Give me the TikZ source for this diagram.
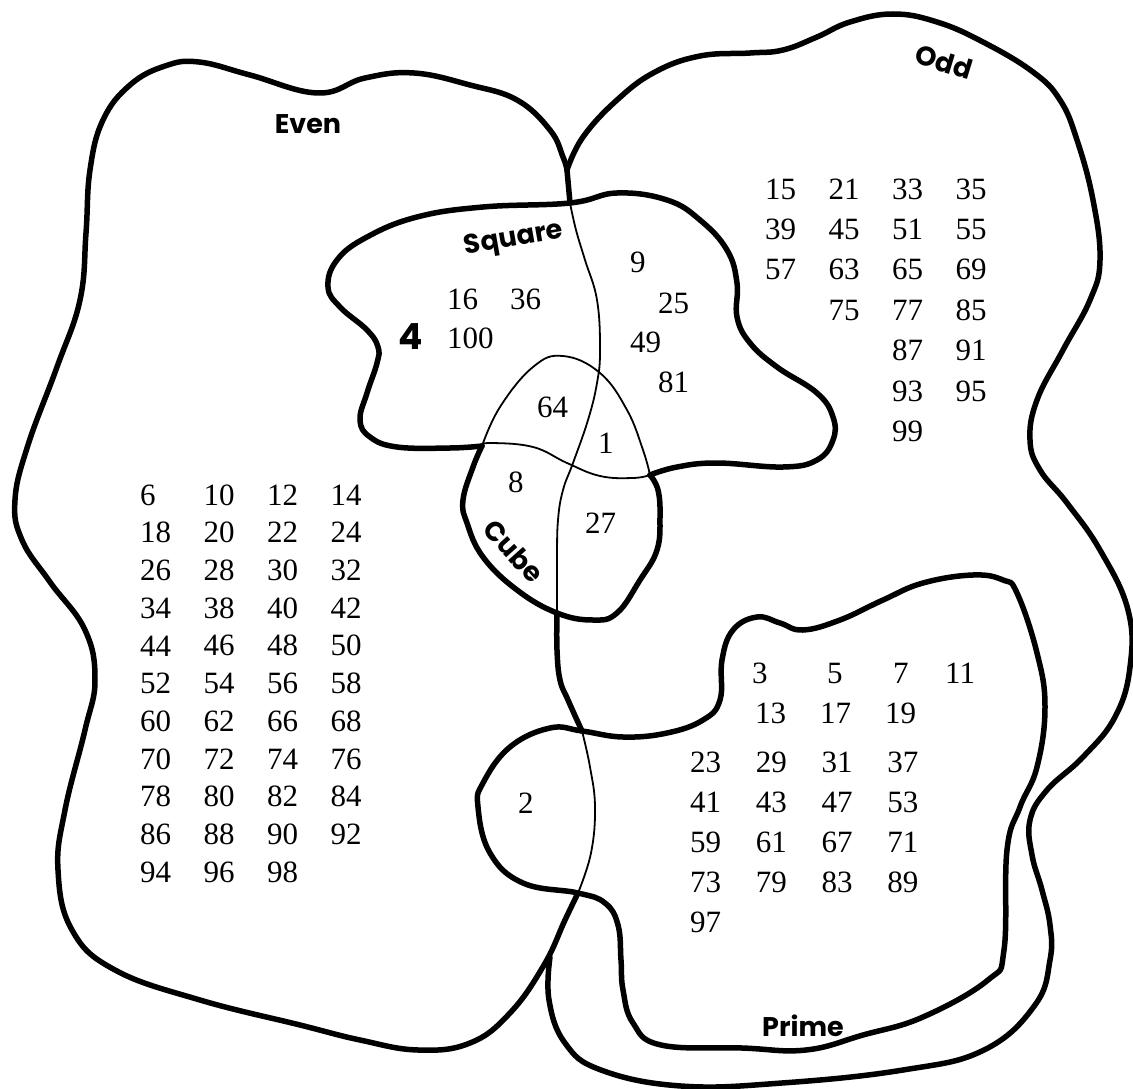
\documentclass[tikz,border=0pt]{standalone}
\usepackage{fontspec}
\setmainfont{Liberation Serif}
\newfontfamily\lblfont{Poppins}

\begin{document}
\begin{tikzpicture}[x=1pt, y=-1pt,
    heavy/.style={line width=5.5pt, line cap=round, line join=round},
    light/.style={line width=1.8pt},
    num/.style={anchor=west, inner sep=0pt, font=\fontsize{31}{31}\selectfont},
    setname/.style={inner sep=0pt, font=\lblfont\bfseries\fontsize{27}{27}\selectfont}]
    \useasboundingbox (0,0) rectangle (1133,1089);

    \coordinate (J1) at (567,170);
    \coordinate (sqTop) at (570,203);
    \coordinate (sqL) at (482,446);
    \coordinate (sqR) at (650,475);
    \coordinate (cbBot) at (557,613);
    \coordinate (prTop) at (582,731);
    \coordinate (prBot) at (578,893);
    \coordinate (oddEnd) at (550,957);

    % Even
    \draw [heavy] plot[smooth, tension=.7] coordinates {(prBot) (565,920) (544,965) (510,1013) (470,1043) (418,1050) (360,1040) (300,1025) (200,1000) (115,970) (72,930) (58,870) (65,810) (85,730) (95,680) (85,630) (50,582) (22,540) (15,500) (28,445) (57,367) (80,300) (86,233) (90,170) (103,120) (130,85) (165,66) (199,62) (250,75) (318,93) (365,78) (414,73) (470,85) (517,100) (550,130) (563,157) (J1)};
    % Odd
    \draw [heavy] plot[smooth, tension=.7] coordinates {(J1) (583,137) (617,100) (655,72) (700,56) (750,53) (783,50) (817,37) (850,22) (893,14) (937,22) (983,42) (1033,72) (1060,100) (1077,140) (1093,200) (1100,260) (1090,300) (1063,350) (1037,400) (1030,440) (1040,470) (1067,503) (1100,550) (1128,610) (1130,667) (1115,717) (1083,757) (1047,790) (1030,820) (1032,855) (1042,890) (1050,925) (1050,960) (1035,1005) (984,1050) (903,1070) (782,1083) (681,1086) (601,1070) (565,1043) (549,1000) (oddEnd)};

    % dividing line
    \draw [heavy] (J1) -- (sqTop);
    \draw [light] plot[smooth, tension=.7] coordinates {(sqTop) (576,230) (585,260) (597,300) (600,350) (597,383) (588,420) (573,463) (563,490) (558,520) (557,560) (cbBot)};
    \draw [heavy] plot[smooth, tension=.7] coordinates {(cbBot) (557,650) (560,680) (568,700) (prTop)};
    \draw [light] plot[smooth, tension=.7] coordinates {(prTop) (590,767) (595,807) (591,853) (prBot)};

    % Square
    \draw [heavy] plot[smooth, tension=.7] coordinates {(sqL) (450,448) (397,447) (370,437) (360,420) (367,393) (377,363) (378,347) (367,330) (340,307) (328,287) (337,260) (367,237) (417,217) (483,207) (sqTop) (617,193) (667,200) (700,220) (727,250) (737,283) (737,317) (750,343) (777,367) (817,393) (833,417) (833,440) (817,460) (783,467) (717,463) (677,467) (sqR)};
    \draw [light] plot[smooth, tension=.7] coordinates {(sqL) (490,443) (533,447) (567,463) (600,476) (633,478) (sqR)};

    % Cube
    \draw [light] plot[smooth, tension=.7] coordinates {(sqL) (500,407) (533,367) (563,356) (600,373) (627,410) (643,450) (sqR)};
    \draw [heavy] plot[smooth, tension=.7] coordinates {(sqL) (473,467) (463,500) (467,523) (483,557) (517,590) (cbBot) (593,620) (617,613) (640,580) (657,550) (660,517) (658,490) (sqR)};

    % Prime
    \draw [heavy] plot[smooth cycle, tension=.7] coordinates {(prTop) (550,728) (510,747) (483,783) (478,807) (490,853) (523,883) (prBot) (605,903) (618,925) (621,960) (623,990) (633,1023) (661,1045) (742,1048) (806,1050) (863,1035) (923,1017) (988,980) (1004,950) (1007,850) (1020,807) (1037,767) (1045,707) (1037,653) (1017,593) (1003,580) (973,575) (923,583) (883,600) (840,620) (803,630) (780,623) (757,617) (733,630) (722,660) (720,700) (703,720) (667,733) (623,737)};

    % set names
    \node [setname] (evenlbl) at (308,124) {Even};
    \node [setname, rotate=10] (sqlbl) at (514,240) {Square};
    \node [setname, rotate=-48] (cblbl) at (514,551) {Cube};
    \node [setname, rotate=-17] (oddlbl) at (944,62) {Odd};
    \node [setname] (prlbl) at (803,1026) {Prime};

    % square and cube numbers
    \node [anchor=west, inner sep=0pt, font=\lblfont\bfseries\fontsize{36}{36}\selectfont] (n4) at (398,337) {4};
    \node [num] (n16) at (447,299) {16};
    \node [num] (n36) at (510,299) {36};
    \node [num] (n100) at (447,338) {100};
    \node [num] (n9) at (630,262) {9};
    \node [num] (n25) at (658,303) {25};
    \node [num] (n49) at (630,342) {49};
    \node [num] (n81) at (658,382) {81};
    \node [num] (n64) at (537,407) {64};
    \node [num] (n1) at (598,443) {1};
    \node [num] (n8) at (508,482) {8};
    \node [num] (n27) at (585,523) {27};
    \node [num] (n2) at (518,803) {2};

    % even numbers
    \foreach \row [count=\r from 0] in {{6,10,12,14},{18,20,22,24},{26,28,30,32},{34,38,40,42},{44,46,48,50},{52,54,56,58},{60,62,66,68},{70,72,74,76},{78,80,82,84},{86,88,90,92},{94,96,98}}
        \foreach \n [count=\c from 0] in \row
            \node [num] (n\n) at ({140+63.5*\c},{495+37.7*\r}) {\n};

    % odd numbers
    \foreach \n/\c/\r in {15/0/0,21/1/0,33/2/0,35/3/0,39/0/1,45/1/1,51/2/1,55/3/1,57/0/2,63/1/2,65/2/2,69/3/2,75/1/3,77/2/3,85/3/3,87/2/4,91/3/4,93/2/5,95/3/5,99/2/6}
        \node [num] (n\n) at ({765+63.5*\c},{189+40.4*\r}) {\n};

    % prime numbers
    \foreach \n/\x/\y in {3/752/673,5/827/673,7/893/673,11/945/673,13/755/713,17/820/713,19/885/713}
        \node [num] (n\n) at (\x,\y) {\n};
    \foreach \row [count=\r from 0] in {{23,29,31,37},{41,43,47,53},{59,61,67,71},{73,79,83,89},{97}}
        \foreach \n [count=\c from 0] in \row
            \node [num] (n\n) at ({690+65.7*\c},{762+40*\r}) {\n};
\end{tikzpicture}
\end{document}
